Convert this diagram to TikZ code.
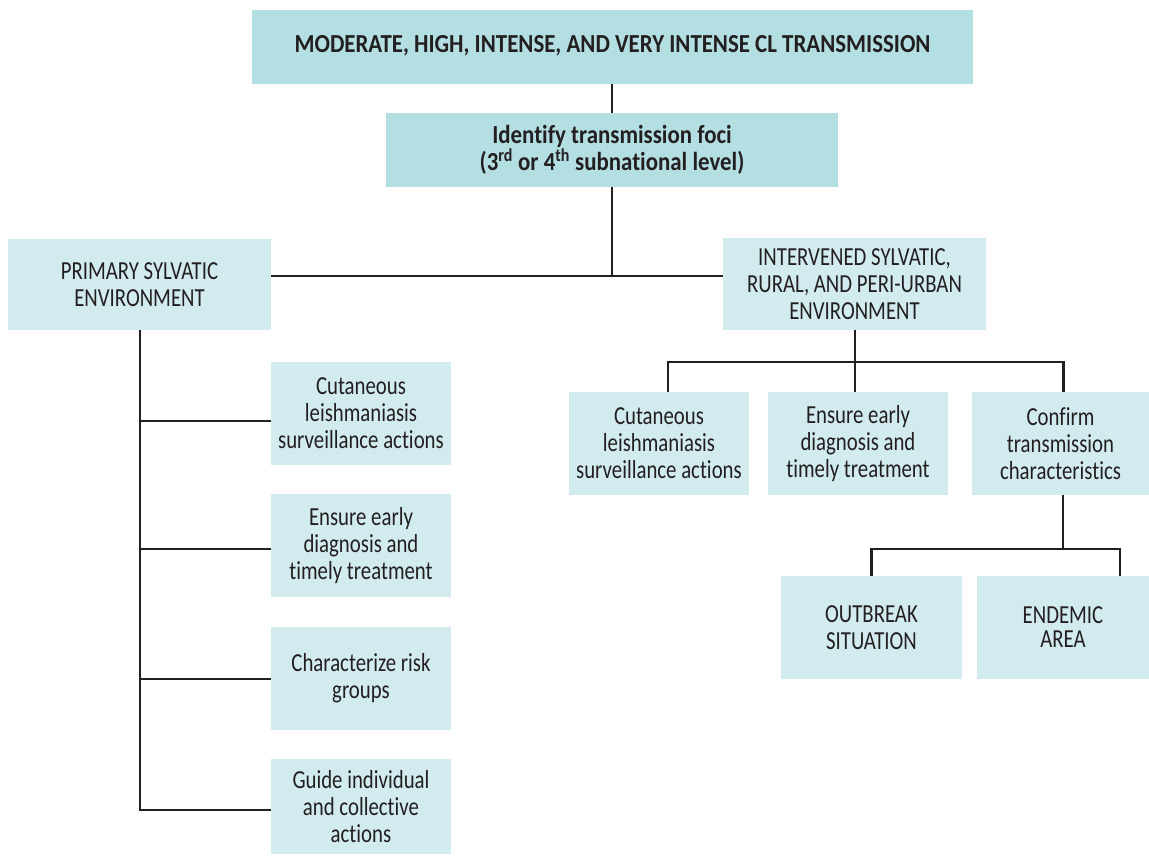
\documentclass[tikz,border=0pt]{standalone}
\usepackage{fontspec}
\setmainfont{Carlito}[FakeStretch=0.8, Ligatures={NoCommon,NoDiscretionary}, BoldFeatures={FakeStretch=0.88}]
\begin{document}
\begin{tikzpicture}[x=1pt,y=-1pt,
  every node/.style={font=\fontsize{26}{27}\selectfont, text=ink, align=center, inner sep=0pt},
  headbox/.style={fill=headfill, font=\bfseries\fontsize{26}{27}\selectfont},
  leafbox/.style={fill=leaffill},
  link/.style={draw=ink, line width=2.2pt}]
\definecolor{headfill}{HTML}{B3DFE3}
\definecolor{leaffill}{HTML}{D2EBEF}
\definecolor{ink}{HTML}{231F20}
\useasboundingbox (0,0) rectangle (1149,855);

% header boxes
\node[headbox, minimum width=721, minimum height=74] (top) at (612.5,47)
  {\strut MODERATE, HIGH, INTENSE, AND VERY INTENSE CL TRANSMISSION};
\node[headbox, minimum width=452, minimum height=74] (foci) at (612,150)
  {Identify transmission foci\\(3\textsuperscript{rd} or 4\textsuperscript{th} subnational level)};

% environments
\node[leafbox, minimum width=263, minimum height=91] (prim) at (139.5,284.5)
  {PRIMARY SYLVATIC\\ENVIRONMENT};
\node[leafbox, minimum width=263, minimum height=92] (inter) at (854.5,284)
  {INTERVENED SYLVATIC,\\RURAL, AND PERI-URBAN\\ENVIRONMENT};

% primary sylvatic actions
\node[leafbox, minimum width=180, minimum height=103] (c1) at (361,413.5)
  {Cutaneous\\leishmaniasis\\surveillance actions};
\node[leafbox, minimum width=180, minimum height=103] (c2) at (361,545.5)
  {Ensure early\\diagnosis and\\timely treatment};
\node[leafbox, minimum width=180, minimum height=103] (c3) at (361,678.5)
  {Characterize risk\\groups};
\node[leafbox, minimum width=180, minimum height=95] (c4) at (361,806.5)
  {Guide individual\\and collective\\actions};

% intervened environment actions
\node[leafbox, minimum width=180, minimum height=103] (r1) at (659,443.5)
  {Cutaneous\\leishmaniasis\\surveillance actions};
\node[leafbox, minimum width=180, minimum height=103] (r2) at (858,443.5)
  {Ensure early\\diagnosis and\\timely treatment};
\node[leafbox, minimum width=177, minimum height=103] (r3) at (1060.5,443.5)
  {Confirm\\transmission\\characteristics};

% transmission characteristics
\node[leafbox, minimum width=181, minimum height=103] (o1) at (871.5,627.5)
  {OUTBREAK\\SITUATION};
\node[leafbox, minimum width=172, minimum height=103] (o2) at (1063,627.5)
  {ENDEMIC\\[-3pt]AREA};

% bus lines and branch points
\coordinate (hbar) at (0,276);
\coordinate (rbus) at (855,362);
\coordinate (obus) at (1063,549);
\coordinate (lbus) at (140,0);
\coordinate (b1) at (0,421);
\coordinate (b2) at (0,549);
\coordinate (b3) at (0,679);
\coordinate (b4) at (0,810);

\draw[link] (top.south -| foci.north) -- (foci.north);
\draw[link] (foci.south) -- (foci.south |- hbar);
\draw[link] (prim.east |- hbar) -- (inter.west |- hbar);

\draw[link] (prim.south -| lbus) -- (lbus |- b4) -- (c4.west |- b4);
\draw[link] (lbus |- b1) -- (c1.west |- b1);
\draw[link] (lbus |- b2) -- (c2.west |- b2);
\draw[link] (lbus |- b3) -- (c3.west |- b3);

\draw[link] (inter.south -| rbus) -- (rbus);
\draw[link] ([xshift=9]r1.north) |- (rbus) -| ([xshift=3]r3.north);
\draw[link] (r2.north -| rbus) -- (rbus);

\draw[link] (r3.south -| obus) -- (obus);
\draw[link] (o1.north) |- (obus) -| ([xshift=57]o2.north);
\end{tikzpicture}
\end{document}
